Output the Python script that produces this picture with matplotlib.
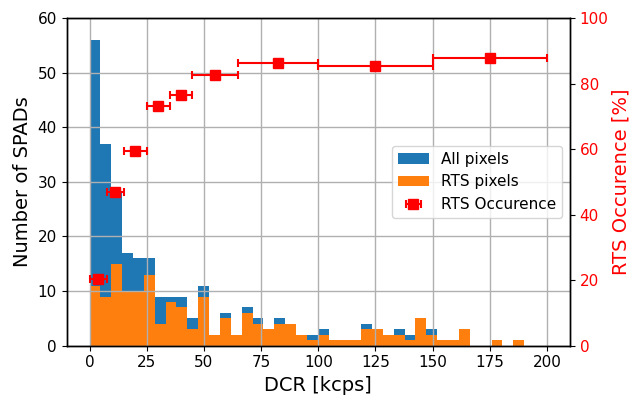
import numpy as np
import matplotlib
matplotlib.use("Agg")
import matplotlib.pyplot as plt

# Histogram data (40 equal bins from 0 to 190 kcps)
bin_lo, bin_hi, n_bins = 0.0, 190.0, 40
all_pixels = [56, 37, 28, 17, 16, 16, 9, 9, 9, 5,
              11, 2, 6, 2, 7, 5, 3, 5, 4, 2,
              2, 3, 1, 1, 1, 4, 3, 2, 3, 2,
              5, 3, 1, 1, 3, 0, 0, 1, 0, 1]
rts_pixels = [11, 9, 15, 10, 10, 13, 4, 8, 7, 3,
              9, 2, 5, 2, 6, 4, 3, 4, 4, 2,
              1, 2, 1, 1, 1, 3, 3, 2, 2, 1,
              5, 2, 1, 1, 3, 0, 0, 1, 0, 1]

# RTS occurrence per DCR interval
occ_x = [3.75, 11.25, 20, 30, 40, 55, 82.5, 125, 175]
occ_xerr = [3.75, 3.75, 5, 5, 5, 10, 17.5, 25, 25]
occ_y = [20.5, 47, 59.5, 73, 76.5, 82.6, 86.4, 85.4, 87.7]

edges = np.linspace(bin_lo, bin_hi, n_bins + 1)
widths = np.diff(edges)

fig = plt.figure(figsize=(6.29, 3.96), dpi=100)
ax = fig.add_axes([0.106, 0.127, 0.8, 0.8275])
b1 = ax.bar(edges[:-1], all_pixels, width=widths, align='edge',
            color='#1f77b4', label='All pixels')
b2 = ax.bar(edges[:-1], rts_pixels, width=widths, align='edge',
            color='#ff7f0e', label='RTS pixels')
ax.set_ylim(0, 60)
ax.set_xticks([0, 25, 50, 75, 100, 125, 150, 175, 200])
ax.set_yticks([0, 10, 20, 30, 40, 50, 60])
ax.grid(True, color='#b0b0b0', linewidth=1.0)
ax.set_xlabel('DCR [kcps]', fontsize=14)
ax.set_ylabel('Number of SPADs', fontsize=14)
ax.tick_params(labelsize=11)
for s in ax.spines.values():
    s.set_linewidth(1.0)

ax2 = ax.twinx()
eb = ax2.errorbar(occ_x, occ_y, xerr=occ_xerr, fmt='s', color='red',
                  markersize=7, capsize=3, elinewidth=1.5, capthick=1.5,
                  label='RTS Occurence')
ax2.set_ylim(0, 100)
ax2.set_ylabel('RTS Occurence [%]', color='red', fontsize=14, labelpad=2)
ax2.tick_params(axis='y', colors='red', labelsize=11)
ax2.spines['right'].set_color('black')
for s in ax2.spines.values():
    s.set_linewidth(1.0)
ax2.tick_params(axis='y', color='black')
ax.set_xlim(-10, 210)

h1, l1 = ax.get_legend_handles_labels()
h2, l2 = ax2.get_legend_handles_labels()
ax2.legend(h1 + h2, l1 + l2, loc='center right', fontsize=11)

fig.savefig('out.png', dpi=100)
